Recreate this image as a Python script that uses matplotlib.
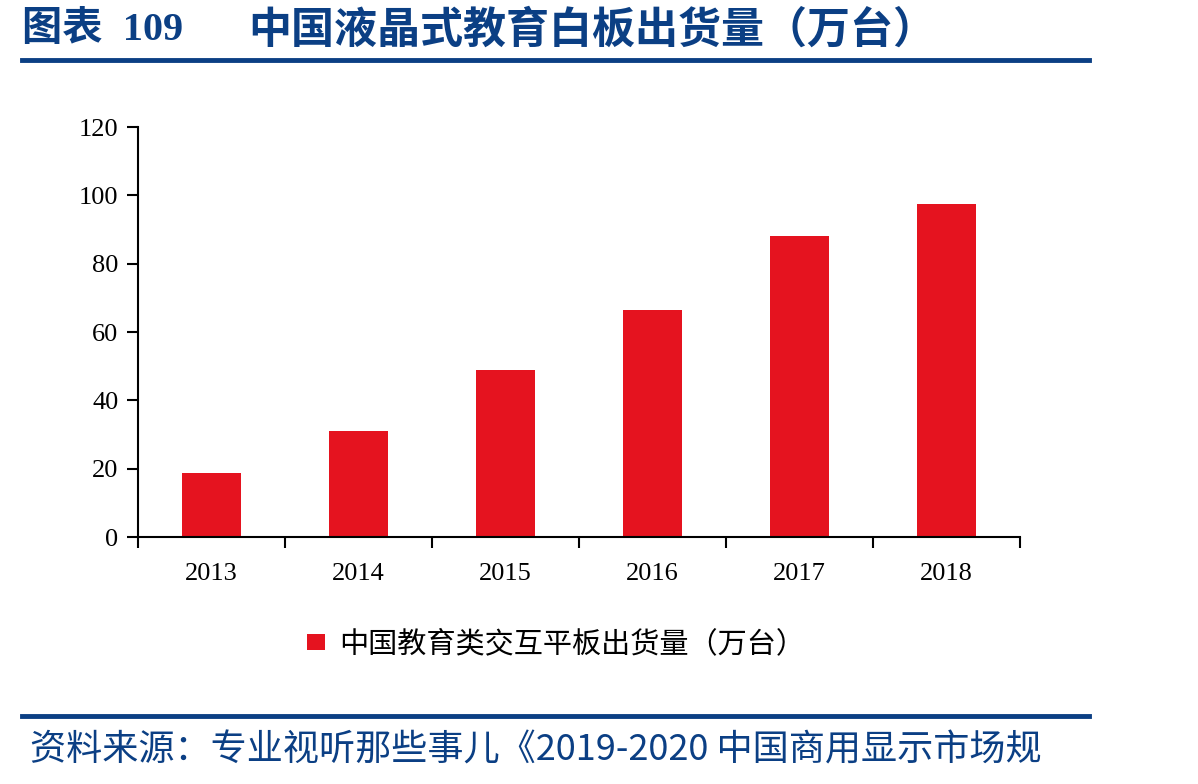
import numpy as np
import matplotlib.pyplot as plt
from matplotlib.lines import Line2D

plt.rcParams['font.family'] = ['Liberation Serif', 'Noto Sans CJK SC']

years = ['2013', '2014', '2015', '2016', '2017', '2018']
shipments = [18.7, 31.0, 48.9, 66.4, 88.1, 97.5]
series_name = '中国教育类交互平板出货量（万台）'

blue = '#0b3f84'
red = '#e5131f'

fig = plt.figure(figsize=(11.98, 7.84), dpi=100)
ax = fig.add_axes([0.1152, 0.315, 0.7362, 0.523])

x = np.arange(len(years))
ax.bar(x, shipments, width=0.4, color=red, label=series_name)

ax.set_xlim(-0.5, len(years) - 0.5)
ax.set_ylim(0, 120)
ax.set_yticks(range(0, 121, 20))
ax.set_xticks(x)
ax.set_xticklabels(years)
ax.set_xticks(np.arange(-0.5, len(years)), minor=True)
ax.tick_params(axis='x', which='major', length=0, labelsize=19, pad=19)
ax.tick_params(axis='x', which='minor', length=8, width=1.5, direction='out')
ax.tick_params(axis='y', length=8, width=1.5, direction='out', labelsize=19, pad=6)
for s in ['top', 'right']:
    ax.spines[s].set_visible(False)
for s in ['left', 'bottom']:
    ax.spines[s].set_linewidth(1.5)

ax.legend(loc='center', bbox_to_anchor=(0.474, -0.262), frameon=False,
          prop={'family': ['Noto Sans CJK SC'], 'size': 21},
          handlelength=0.6, handleheight=0.45, handletextpad=0.5)

# title and rules
fig.text(0.018, 0.962, '图表  109', fontsize=29, fontweight='bold', color=blue,
         va='center', family=['Liberation Serif', 'Noto Sans CJK SC'])
fig.text(0.207, 0.962, '中国液晶式教育白板出货量（万台）', fontsize=31, fontweight='bold',
         color=blue, va='center', family=['Noto Sans CJK SC'])
fig.add_artist(Line2D([0.018, 0.909], [0.923, 0.923], color=blue, lw=3.5))
fig.add_artist(Line2D([0.018, 0.909], [0.087, 0.087], color=blue, lw=3.5))
fig.text(0.025, 0.043, '资料来源：专业视听那些事儿《2019-2020 中国商用显示市场规',
         fontsize=26, color=blue, va='center', style='italic',
         family=['Noto Sans CJK SC', 'Liberation Serif'])

fig.savefig('out.png', dpi=100)
